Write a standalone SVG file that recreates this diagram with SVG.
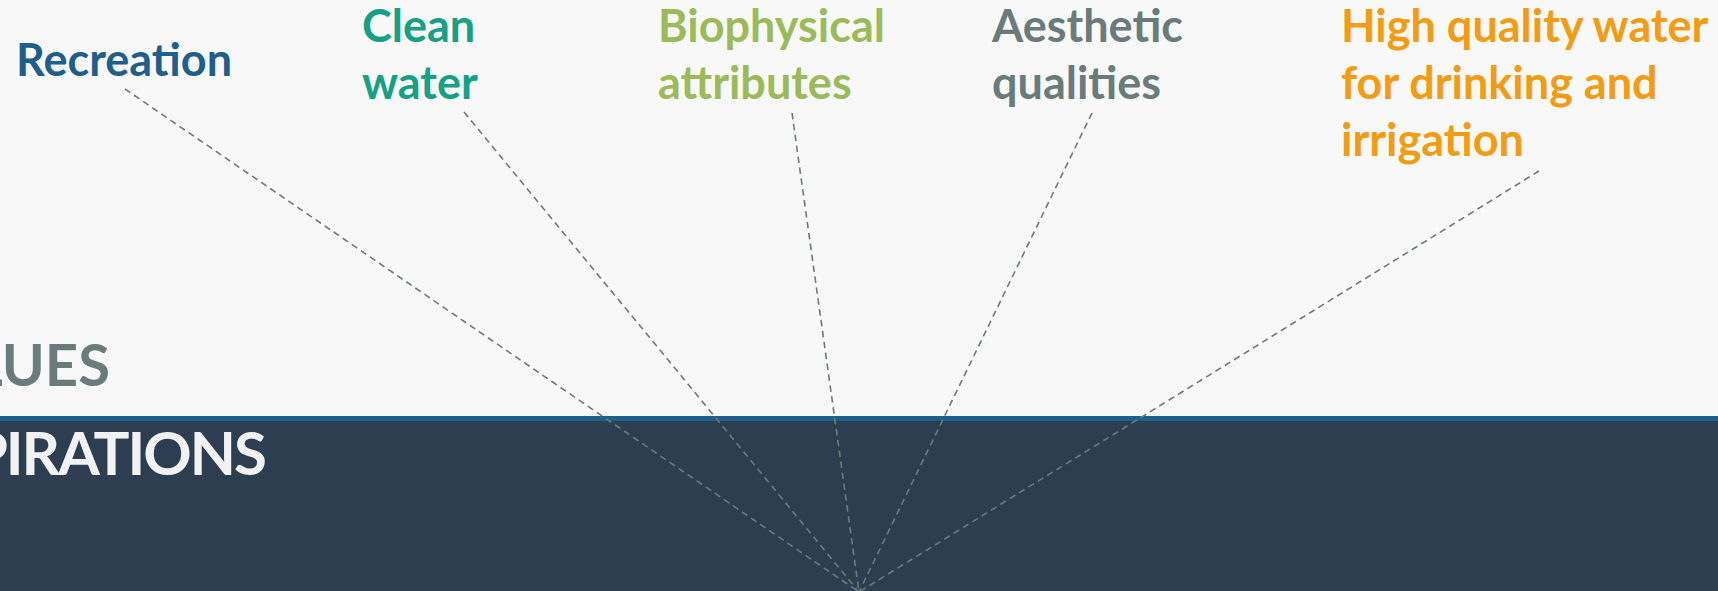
<svg xmlns="http://www.w3.org/2000/svg" width="1718" height="591" viewBox="0 0 1718 591">
<style>
.lbl{font-family:Lato,"Open Sans","Liberation Sans",sans-serif;font-weight:700;font-size:45px}
.big{font-family:Lato,"Open Sans","Liberation Sans",sans-serif;font-weight:700}
.conn{fill:none;stroke:#6A7B7B;stroke-width:1.6;stroke-dasharray:6.5 4.5}
</style>
<rect x="0" y="0" width="1718" height="591" fill="#F8F8F8"/>
<rect x="0" y="421" width="1718" height="170" fill="#2D3E50"/>
<rect x="0" y="416" width="1718" height="5" fill="#1F5F8B"/>
<g id="band-labels">
<text class="big" x="110" y="386" font-size="58" text-anchor="end" fill="#6A7B7B">VALUES</text>
<text class="big" x="265" y="475" font-size="60" letter-spacing="-2" text-anchor="end" fill="#F2F2F2">ASPIRATIONS</text>
</g>
<g id="connectors">
<line class="conn" x1="125" y1="89" x2="859" y2="592"/>
<line class="conn" x1="464" y1="112" x2="859" y2="592"/>
<line class="conn" x1="792" y1="113" x2="859" y2="592"/>
<line class="conn" x1="1092" y1="113" x2="859" y2="592"/>
<line class="conn" x1="1539" y1="171" x2="859" y2="592"/>
</g>
<g id="recreation"><text class="lbl" x="16" y="76" fill="#1F5F8B">Recreation</text></g>
<g id="clean-water"><text class="lbl" fill="#16A085"><tspan x="362" y="42">Clean</tspan><tspan x="362" y="99">water</tspan></text></g>
<g id="biophysical"><text class="lbl" fill="#9BBB59"><tspan x="658" y="42">Biophysical</tspan><tspan x="658" y="99">attributes</tspan></text></g>
<g id="aesthetic"><text class="lbl" fill="#6A7B7B"><tspan x="992" y="42">Aesthetic</tspan><tspan x="992" y="99">qualities</tspan></text></g>
<g id="high-quality"><text class="lbl" fill="#F39C12"><tspan x="1341" y="42">High quality water</tspan><tspan x="1341" y="99">for drinking and</tspan><tspan x="1341" y="156">irrigation</tspan></text></g>
</svg>
